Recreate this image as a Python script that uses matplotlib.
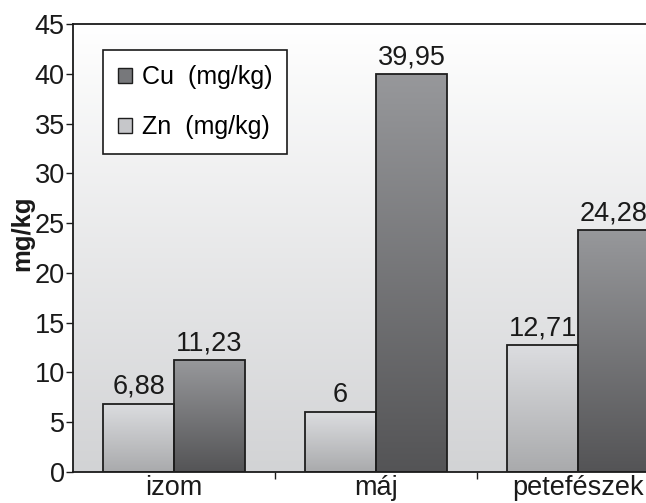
import numpy as np
import matplotlib
matplotlib.use("Agg")
import matplotlib.pyplot as plt
from matplotlib.patches import Rectangle
from matplotlib.colors import LinearSegmentedColormap

categories = ["izom", "máj", "petefészek"]
zn_values = [6.88, 6.0, 12.71]
cu_values = [11.23, 39.95, 24.28]
series_names = ["Cu  (mg/kg)", "Zn  (mg/kg)"]
y_ticks = [0, 5, 10, 15, 20, 25, 30, 35, 40, 45]

plt.rcParams['font.family'] = ['Liberation Sans', 'DejaVu Sans']

W, H = 646, 503
fig = plt.figure(figsize=(W/100, H/100), dpi=100)
ax_left, ax_right, ax_bottom, ax_top = 73, 646, 31, 479
ax = fig.add_axes([ax_left/W, ax_bottom/H, (ax_right-ax_left)/W, (ax_top-ax_bottom)/H])
ax.set_facecolor('none')

xlim = (-0.5, -0.5 + (ax_right - ax_left) / 202.0)
ylim = (0, 45)

# background gradient
bg = LinearSegmentedColormap.from_list('bg', ['#d2d3d5', '#ffffff'])
grad = np.linspace(0, 1, 256).reshape(-1, 1)
ax.imshow(grad, cmap=bg, extent=[0, 1, 0, 1], transform=ax.transAxes,
          aspect='auto', origin='lower', zorder=0)

zn_cmap = LinearSegmentedColormap.from_list('zn', ['#a9aaac', '#dcdde0'])
cu_cmap = LinearSegmentedColormap.from_list('cu', ['#545456', '#97989b'])

x = np.arange(len(categories))
w = 0.35
zn_bars = ax.bar(x - w/2, zn_values, w, facecolor='none', edgecolor='#1e1e1e',
                 linewidth=1.3, zorder=3)
cu_bars = ax.bar(x + w/2, cu_values, w, facecolor='none', edgecolor='#1e1e1e',
                 linewidth=1.3, zorder=3)

for bars, cmap in ((zn_bars, zn_cmap), (cu_bars, cu_cmap)):
    for b in bars:
        x0, y0 = b.get_x(), b.get_y()
        ax.imshow(grad, cmap=cmap, extent=[x0, x0 + b.get_width(), y0, y0 + b.get_height()],
                  aspect='auto', origin='lower', zorder=2)

for bars, vals in ((zn_bars, zn_values), (cu_bars, cu_values)):
    for b, v in zip(bars, vals):
        ax.annotate(f"{v:g}".replace('.', ','), (b.get_x() + b.get_width()/2, v),
                    xytext=(0, 3), textcoords='offset points', ha='center', va='bottom',
                    fontsize=19.5, color='#1a1a1a', zorder=5)

ax.set_xlim(*xlim)
ax.set_ylim(*ylim)
ax.set_yticks(y_ticks)
ax.set_yticklabels([str(t) for t in y_ticks], fontsize=19.5, color='#1a1a1a')
ax.tick_params(axis='y', direction='out', length=5, width=1, pad=1, color='#1a1a1a')
ax.set_xticks(x)
ax.set_xticklabels(categories, fontsize=19.5, color='#1a1a1a')
ax.tick_params(axis='x', length=0, pad=2.5)
ax.set_xticks([0.5, 1.5], minor=True)
ax.tick_params(axis='x', which='minor', direction='out', length=5, width=1, color='#1a1a1a')

for s in ('left', 'top', 'bottom'):
    ax.spines[s].set_color('#1a1a1a')
    ax.spines[s].set_linewidth(1.3)
ax.spines['right'].set_visible(False)

ax.set_ylabel('mg/kg', fontsize=18.5, fontweight='bold', color='#1a1a1a')
ax.yaxis.set_label_coords(-0.068, 0.533)

handles = [Rectangle((0, 0), 1, 1, facecolor='#77787b', edgecolor='#1e1e1e', linewidth=1),
           Rectangle((0, 0), 1, 1, facecolor='#c6c7ca', edgecolor='#1e1e1e', linewidth=1)]
leg = ax.legend(handles, series_names, loc='upper left',
                bbox_to_anchor=(30/573, (472-50)/448), borderaxespad=0,
                fontsize=18, frameon=True, fancybox=False, edgecolor='#1a1a1a',
                facecolor='#ffffff', framealpha=1, handlelength=0.55, handleheight=0.55,
                handletextpad=0.4, labelspacing=1.05, borderpad=0.6)
leg.get_frame().set_linewidth(1.2)
leg.set_zorder(6)

fig.savefig('out.png', dpi=100)
